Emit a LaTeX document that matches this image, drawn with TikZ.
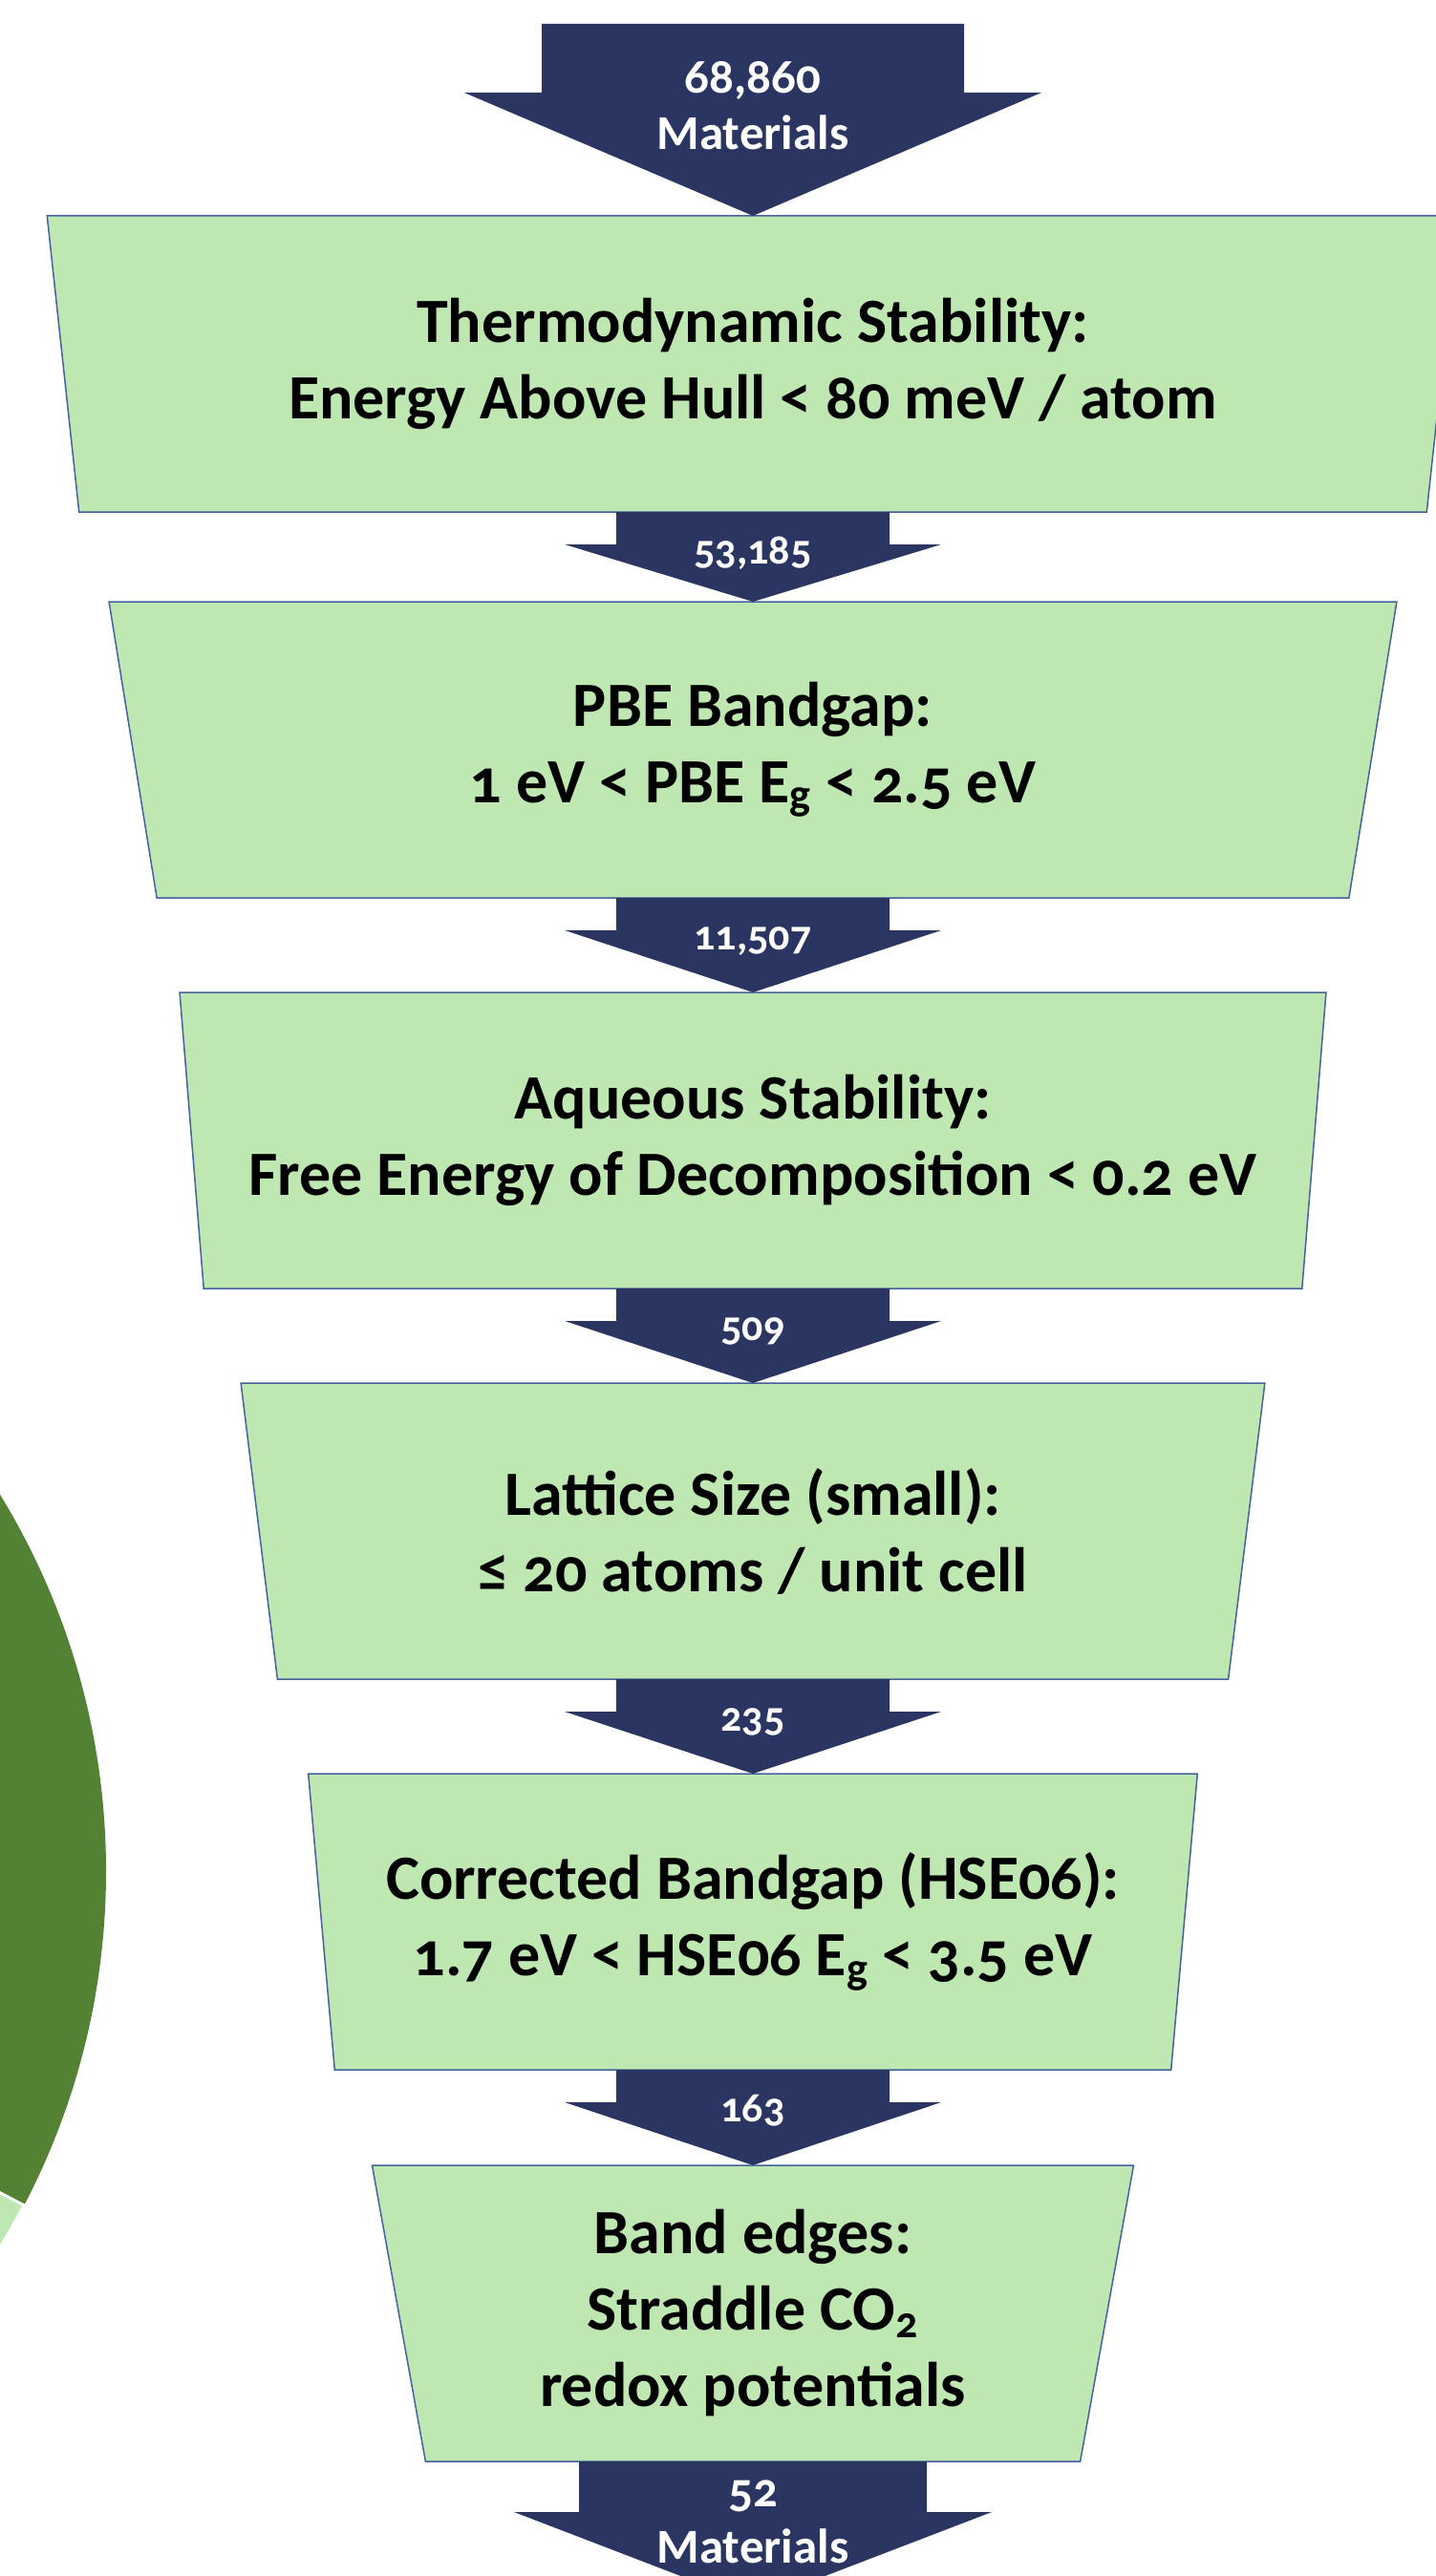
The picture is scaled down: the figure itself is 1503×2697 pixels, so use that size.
\documentclass[tikz,border=0pt]{standalone}
\usepackage{fontspec}
\setmainfont{Carlito}[Numbers=OldStyle]
\usetikzlibrary{shapes.geometric,calc}
\definecolor{navy}{RGB}{42,53,98}
\definecolor{stagefill}{RGB}{190,231,177}
\definecolor{edge}{RGB}{68,98,158}
\definecolor{piedark}{RGB}{84,130,53}

\begin{document}
\begin{tikzpicture}
  [x=0.5pt,y=-0.5pt,
   stagebox/.style={trapezium,trapezium left angle=99.52,trapezium right angle=99.52,
     trapezium stretches=true,minimum height=155pt,inner sep=0pt,outer sep=0pt,
     fill=stagefill,draw=edge,line width=0.75pt,align=center,
     font=\fontsize{33}{40}\selectfont\bfseries},
   flowarrow/.style={fill=navy},
   tally/.style={text=white,anchor=base,font=\fontsize{22}{25}\selectfont\bfseries},
   bigtally/.style={text=white,align=center,font=\fontsize{25.5}{29.5}\selectfont\bfseries}]
  \useasboundingbox (0,0) rectangle (1503,2697);
  \clip (0,0) rectangle (1503,2697);

  \fill[piedark] (-644,1959) circle[radius=755];
  \filldraw[fill=stagefill,draw=white,line width=1.5pt] (-644,1959) -- +(27.6:755)
    arc[start angle=27.6,end angle=60,radius=755] -- cycle;

  \foreach \n/\y/\w/\txt in {
    s1/381/743/{Thermodynamic Stability:\\Energy Above Hull < 80 meV / atom},
    s2/785/677/{PBE Bandgap:\\1 eV < PBE E\textsubscript{g} < 2.5 eV},
    s3/1194/605/{Aqueous Stability:\\Free Energy of Decomposition < 0.2 eV},
    s4/1603/537/{Lattice Size (small):\\≤ 20 atoms / unit cell},
    s5/2012/467/{Corrected Bandgap (HSE06):\\1.7 eV < HSE06 E\textsubscript{g} < 3.5 eV},
    s6/2422/400/{Band edges:\\Straddle CO\textsubscript{2}\\redox potentials}}
    \node[stagebox,minimum width=\w pt] (\n) at (788,\y) {\txt};

  \coordinate (top) at (788,25);
  \fill[flowarrow] ($(top)+(-221,0)$) -- ($(top)+(221,0)$) -- ($(top)+(221,72)$)
    -- ($(top)+(302,72)$) -- (s1.north) -- ($(top)+(-302,72)$) -- ($(top)+(-221,72)$) -- cycle;
  \node[bigtally] (c0) at (788,111) {68,860\\Materials};

  \foreach \a/\b/\k in {s1/s2/{53,185},s2/s3/{11,507},s3/s4/509,s4/s5/235,s5/s6/163} {
    \fill[flowarrow] ($(\a.south)+(-143,0)$) -- ($(\a.south)+(143,0)$) -- ($(\a.south)+(143,34)$)
      -- ($(\a.south)+(197,34)$) -- (\b.north) -- ($(\a.south)+(-197,34)$) -- ($(\a.south)+(-143,34)$) -- cycle;
    \node[tally] (c\a) at ($(\a.south)+(0,54)$) {\k};
  }

  \coordinate (bot) at (788,2726);
  \fill[flowarrow] ($(s6.south)+(-182,0)$) -- ($(s6.south)+(182,0)$) -- ($(s6.south)+(182,53)$)
    -- ($(s6.south)+(250,53)$) -- (bot) -- ($(s6.south)+(-250,53)$) -- ($(s6.south)+(-182,53)$) -- cycle;
  \node[bigtally] (c6) at (788,2640) {52\\Materials};
\end{tikzpicture}
\end{document}
